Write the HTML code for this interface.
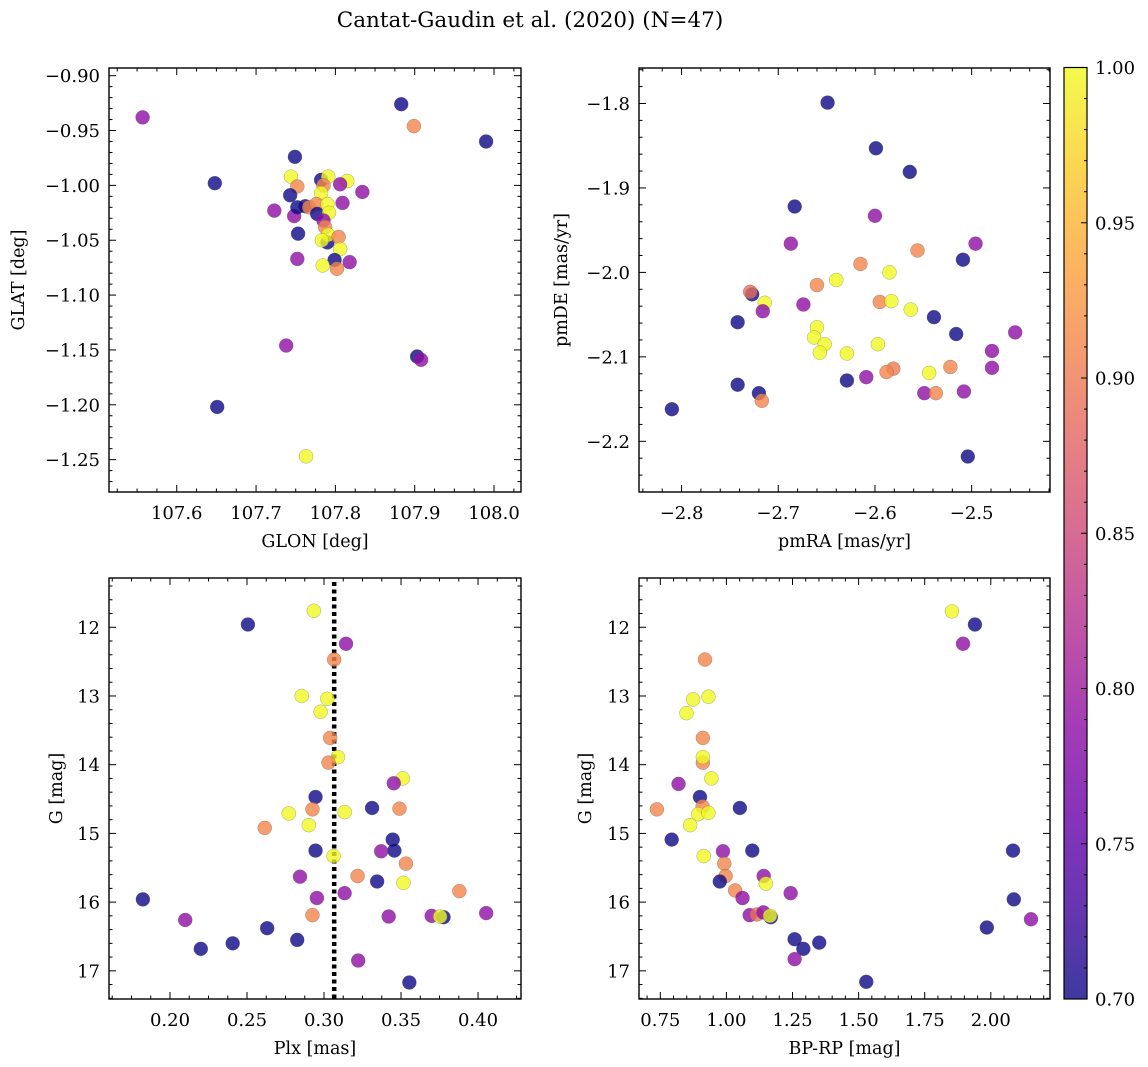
<!DOCTYPE html>
<html><head><meta charset="utf-8">
<style>
html,body{margin:0;padding:0;background:#fff;}
svg{display:block;font-family:"DejaVu Serif","Liberation Serif",serif;}
</style></head>
<body>
<svg id="fig" width="1148" height="1067" viewBox="0 0 1148 1067" xmlns="http://www.w3.org/2000/svg">
<defs>
<linearGradient id="plasma" x1="0" y1="1" x2="0" y2="0">
<stop offset="0" stop-color="#0d0887"/><stop offset="0.1" stop-color="#41049d"/><stop offset="0.2" stop-color="#6a00a8"/><stop offset="0.3" stop-color="#8f0da4"/><stop offset="0.4" stop-color="#b12a90"/><stop offset="0.5" stop-color="#cc4778"/><stop offset="0.6" stop-color="#e16462"/><stop offset="0.7" stop-color="#f2844b"/><stop offset="0.8" stop-color="#fca636"/><stop offset="0.9" stop-color="#fcce25"/><stop offset="1" stop-color="#f0f921"/>
</linearGradient>
</defs>
<text x="530" y="27" font-size="21.5" text-anchor="middle">Cantat-Gaudin et al. (2020) (N=47)</text>
</svg>
<script>
// Panel 1: GLON vs GLAT
const p1x=[107.557,107.883,107.899,107.990,107.749,107.648,107.744,107.752,107.743,107.782,107.791,107.785,107.815,107.806,107.834,107.782,107.723,107.748,107.752,107.762,107.767,107.776,107.777,107.790,107.792,107.809,107.785,107.787,107.753,107.790,107.791,107.804,107.783,107.806,107.752,107.799,107.818,107.784,107.802,107.738,107.903,107.908,107.651,107.763];
const p1y=[-0.938,-0.926,-0.946,-0.960,-0.974,-0.998,-0.992,-1.001,-1.009,-0.995,-0.992,-1.000,-0.996,-0.999,-1.006,-1.007,-1.023,-1.028,-1.020,-1.019,-1.020,-1.017,-1.026,-1.017,-1.025,-1.016,-1.032,-1.038,-1.044,-1.052,-1.045,-1.047,-1.050,-1.058,-1.067,-1.068,-1.070,-1.073,-1.076,-1.146,-1.156,-1.159,-1.202,-1.247];
const p1c=[0.79,0.70,0.91,0.70,0.70,0.70,1.0,0.91,0.70,0.70,1.0,0.91,1.0,0.79,0.79,1.0,0.79,0.79,0.70,0.70,0.91,0.91,0.70,1.0,1.0,0.79,0.79,0.91,0.70,0.70,1.0,0.91,1.0,1.0,0.79,0.70,0.79,1.0,0.91,0.79,0.70,0.79,0.70,1.0];
const p1xt=[107.6,107.7,107.8,107.9,108.0];
const p1yt=[-0.90,-0.95,-1.00,-1.05,-1.10,-1.15,-1.20,-1.25];
// Panel 2: pmRA vs pmDE
const p2x=[-2.649,-2.599,-2.564,-2.683,-2.600,-2.687,-2.496,-2.556,-2.509,-2.615,-2.585,-2.640,-2.660,-2.727,-2.729,-2.714,-2.716,-2.674,-2.595,-2.583,-2.563,-2.539,-2.742,-2.516,-2.455,-2.660,-2.663,-2.652,-2.657,-2.629,-2.597,-2.479,-2.479,-2.522,-2.581,-2.588,-2.544,-2.609,-2.629,-2.742,-2.720,-2.717,-2.549,-2.537,-2.508,-2.810,-2.504];
const p2y=[-1.799,-1.853,-1.881,-1.922,-1.933,-1.966,-1.966,-1.974,-1.985,-1.990,-2.000,-2.009,-2.015,-2.026,-2.023,-2.036,-2.046,-2.038,-2.035,-2.034,-2.044,-2.053,-2.059,-2.073,-2.071,-2.065,-2.077,-2.085,-2.095,-2.096,-2.085,-2.093,-2.113,-2.112,-2.114,-2.118,-2.119,-2.124,-2.128,-2.133,-2.143,-2.152,-2.143,-2.143,-2.141,-2.162,-2.218];
const p2c=[0.70,0.70,0.70,0.70,0.79,0.79,0.79,0.91,0.70,0.91,1.0,1.0,0.91,0.70,0.89,1.0,0.79,0.79,0.91,1.0,1.0,0.70,0.70,0.70,0.79,1.0,1.0,1.0,1.0,1.0,1.0,0.79,0.79,0.91,0.90,0.91,1.0,0.79,0.70,0.70,0.70,0.91,0.79,0.91,0.79,0.70,0.70];
const p2xt=[-2.8,-2.7,-2.6,-2.5];
const p2yt=[-1.8,-1.9,-2.0,-2.1,-2.2];
// Panel 3: Plx vs G
const p3x=[0.2934,0.2506,0.3143,0.3066,0.2855,0.3022,0.2978,0.3040,0.3090,0.3029,0.3512,0.3453,0.2945,0.3312,0.3490,0.2925,0.2771,0.3134,0.2901,0.2615,0.3446,0.3457,0.2945,0.3371,0.3062,0.3532,0.2844,0.3218,0.3345,0.3516,0.3879,0.3134,0.2954,0.1824,0.4053,0.2925,0.3420,0.3699,0.3776,0.3754,0.2099,0.2631,0.2826,0.2407,0.2200,0.3222,0.3554];
const p3y=[11.76,11.96,12.24,12.47,13.00,13.04,13.23,13.61,13.89,13.97,14.20,14.27,14.47,14.63,14.64,14.65,14.71,14.69,14.88,14.92,15.09,15.25,15.25,15.26,15.33,15.44,15.63,15.62,15.70,15.72,15.84,15.87,15.94,15.96,16.16,16.19,16.21,16.20,16.22,16.21,16.26,16.38,16.55,16.60,16.68,16.85,17.17];
const p3c=[1.0,0.70,0.79,0.91,1.0,1.0,1.0,0.91,1.0,0.91,1.0,0.79,0.70,0.70,0.91,0.91,1.0,1.0,1.0,0.91,0.70,0.70,0.70,0.79,1.0,0.91,0.79,0.91,0.70,1.0,0.91,0.79,0.79,0.70,0.79,0.91,0.79,0.79,0.70,1.0,0.79,0.70,0.70,0.70,0.70,0.79,0.70];
const p3xt=[0.20,0.25,0.30,0.35,0.40];
const p3yt=[12,13,14,15,16,17];
const p3line=[0.3066];
// Panel 4: BP-RP vs G
const p4x=[1.853,1.940,1.895,0.919,0.932,0.874,0.849,0.911,0.911,0.911,0.943,0.819,0.900,1.051,0.737,0.910,0.893,0.932,0.863,0.793,1.098,0.987,0.914,0.992,1.141,0.997,0.975,1.149,1.033,1.243,1.061,2.084,2.087,1.088,1.115,1.140,1.168,1.165,2.152,1.985,1.258,1.351,1.291,1.258,1.529];
const p4y=[11.77,11.96,12.24,12.47,13.01,13.05,13.25,13.61,13.97,13.89,14.20,14.28,14.47,14.63,14.65,14.61,14.72,14.70,14.88,15.09,15.25,15.26,15.33,15.44,15.62,15.62,15.70,15.73,15.83,15.87,15.94,15.25,15.96,16.19,16.18,16.15,16.22,16.20,16.25,16.37,16.54,16.59,16.68,16.83,17.16];
const p4c=[1.0,0.70,0.79,0.91,1.0,1.0,1.0,0.91,0.91,1.0,1.0,0.79,0.70,0.70,0.91,0.91,1.0,1.0,1.0,0.70,0.70,0.79,1.0,0.91,0.79,0.91,0.70,1.0,0.91,0.79,0.79,0.70,0.70,0.79,0.89,0.79,0.70,1.0,0.79,0.70,0.70,0.70,0.70,0.79,0.70];
const p4xt=[0.75,1.00,1.25,1.50,1.75,2.00];
const p4yt=[12,13,14,15,16,17];
// Colorbar
const cbTicks=[0.70,0.75,0.80,0.85,0.90,0.95,1.00];

const NS="http://www.w3.org/2000/svg";
const svg=document.getElementById('fig');
function mk(tag,attrs,parent){const e=document.createElementNS(NS,tag);for(const k in attrs)e.setAttribute(k,attrs[k]);(parent||svg).appendChild(e);return e;}
const stops=[[13,8,135],[65,4,157],[106,0,168],[143,13,164],[177,42,144],[204,71,120],[225,100,98],[242,132,75],[252,166,54],[252,206,37],[240,249,33]];
function plasma(v){let t=Math.max(0,Math.min(1,(v-0.7)/0.3))*10;const i=Math.min(9,Math.floor(t)),f=t-i;const a=stops[i],b=stops[i+1];return 'rgb('+a.map((x,k)=>Math.round(x+(b[k]-x)*f)).join(',')+')';}
function fmt(v,d){const s=Math.abs(v).toFixed(d);return (v<0?'\u2212':'')+s;}
const TF=18;

function panel(o){
  const g=mk('g',{});
  
  
  const X=v=>o.x0+(v-o.xmin)/(o.xmax-o.xmin)*(o.x1-o.x0);
  const Y=o.inv?(v=>o.y0+(v-o.ymin)/(o.ymax-o.ymin)*(o.y1-o.y0)):(v=>o.y1-(v-o.ymin)/(o.ymax-o.ymin)*(o.y1-o.y0));
  const tg=mk('g',{stroke:'#000','stroke-width':1},g);
  const xs=o.xt[1]-o.xt[0], ys=o.yt[1]-o.yt[0];
  for(let k=-10;k<200;k++){const v=o.xt[0]+k*xs/o.xm;if(v<o.xmin-1e-9||v>o.xmax+1e-9)continue;const px=X(v);const L=(k%o.xm===0)?7:3.5;
    mk('line',{x1:px,x2:px,y1:o.y1,y2:o.y1-L},tg);mk('line',{x1:px,x2:px,y1:o.y0,y2:o.y0+L},tg);}
  for(let k=-10;k<200;k++){const v=o.yt[0]+k*ys/o.ym;if(v<Math.min(o.ymin,o.ymax)-1e-9||v>Math.max(o.ymin,o.ymax)+1e-9)continue;const py=Y(v);const L=(k%o.ym===0)?7:3.5;
    mk('line',{x1:o.x0,x2:o.x0+L,y1:py,y2:py},tg);mk('line',{x1:o.x1,x2:o.x1-L,y1:py,y2:py},tg);}
  o.xt.forEach(v=>{const t=mk('text',{x:X(v),y:o.y1+27,'font-size':TF,'text-anchor':'middle'},g);t.textContent=fmt(v,o.xd);
    
    });
  o.yt.forEach(v=>{const t=mk('text',{x:o.x0-9,y:Y(v)+6.5,'font-size':TF,'text-anchor':'end'},g);t.textContent=fmt(v,o.yd);
    
    });
  const xl=mk('text',{x:(o.x0+o.x1)/2,y:o.y1+55,'font-size':17.5,'text-anchor':'middle'},g);xl.textContent=o.xlab;
  
  
  const yl=mk('text',{x:0,y:0,'font-size':17.5,'text-anchor':'middle',transform:'translate('+o.ylx+','+(o.y0+o.y1)/2+') rotate(-90)'},g);yl.textContent=o.ylab;
  
  
  if(o.vline){o.vline.forEach(v=>{const l=mk('line',{x1:X(v),x2:X(v),y1:o.y0+4,y2:o.y1,stroke:'#000','stroke-width':4.5,'stroke-dasharray':'4,3.5'},g);
    
    });}
  o.px.forEach((v,i)=>{const c=mk('circle',{cx:X(v),cy:Y(o.py[i]),r:7,fill:plasma(o.pc[i]),'fill-opacity':0.8,stroke:'#555','stroke-opacity':0.5,'stroke-width':0.5},g);
    
    });
  const fr=mk('rect',{x:o.x0,y:o.y0,width:o.x1-o.x0,height:o.y1-o.y0,fill:'none',stroke:'#000','stroke-width':1.4},g);
  
  
}
panel({name:'glon-glat-panel',x0:109,x1:521,y0:68,y1:492,xmin:107.5146,xmax:108.034,ymin:-1.2795,ymax:-0.893,xt:p1xt,yt:p1yt,xm:4,ym:5,xd:1,yd:2,xlab:'GLON [deg]',ylab:'GLAT [deg]',ylx:24,px:p1x,py:p1y,pc:p1c});
panel({name:'pm-panel',x0:639,x1:1050,y0:68,y1:492,xmin:-2.844,xmax:-2.419,ymin:-2.260,ymax:-1.758,xt:p2xt,yt:p2yt,xm:5,ym:5,xd:1,yd:1,xlab:'pmRA [mas/yr]',ylab:'pmDE [mas/yr]',ylx:567,px:p2x,py:p2y,pc:p2c});
panel({name:'plx-g-panel',x0:109,x1:521,y0:578,y1:999,xmin:0.1604,xmax:0.4279,ymin:11.283,ymax:17.41,inv:true,xt:p3xt,yt:p3yt,xm:4,ym:5,xd:2,yd:0,xlab:'Plx [mas]',ylab:'G [mag]',ylx:62,px:p3x,py:p3y,pc:p3c,vline:p3line});
panel({name:'cmd-panel',x0:639,x1:1050,y0:578,y1:999,xmin:0.6694,xmax:2.2239,ymin:11.283,ymax:17.41,inv:true,xt:p4xt,yt:p4yt,xm:5,ym:5,xd:2,yd:0,xlab:'BP-RP [mag]',ylab:'G [mag]',ylx:591,px:p4x,py:p4y,pc:p4c});

const cg=mk('g',{});


const cb0=67.5,cb1=999,cx0=1064,cx1=1087;
mk('rect',{x:cx0,y:cb0,width:cx1-cx0,height:cb1-cb0,fill:'url(#plasma)','fill-opacity':0.8},cg);
const CY=v=>cb1-(v-0.7)/0.3*(cb1-cb0);
for(let k=0;k<=30;k++){const v=0.7+k*0.01;const L=(k%5===0)?6:3;mk('line',{x1:cx1,x2:cx1-L,y1:CY(v),y2:CY(v),stroke:'#000','stroke-width':1},cg);}
cbTicks.forEach(v=>{const t=mk('text',{x:1095,y:CY(v)+6.5,'font-size':TF},cg);t.textContent=v.toFixed(2);
  
  });
mk('rect',{x:cx0,y:cb0,width:cx1-cx0,height:cb1-cb0,fill:'none',stroke:'#000','stroke-width':1.2},cg);
</script>
</body></html>
